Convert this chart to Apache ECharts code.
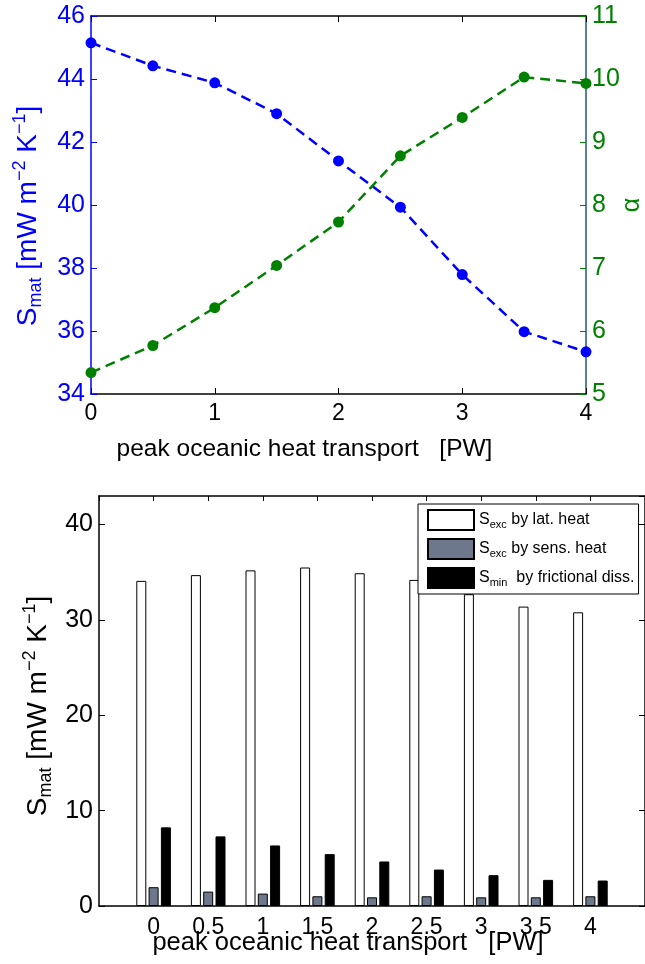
<!DOCTYPE html>
<html>
<head>
<meta charset="utf-8">
<script src="https://cdn.jsdelivr.net/npm/echarts@6/dist/echarts.min.js"></script>
<style>
  html, body { margin: 0; padding: 0; background: #fff; }
  #chart { width: 645px; height: 964px; }
</style>
</head>
<body>
<div id="chart"></div>
<script>
// peak oceanic heat transport [PW]
const transport = [0, 0.5, 1, 1.5, 2, 2.5, 3, 3.5, 4]
// top panel: material entropy production (left axis) and alpha (right axis)
const sMat = [45.15, 44.42, 43.88, 42.9, 41.4, 39.93, 37.79, 35.98, 35.34]
const alpha = [5.34, 5.77, 6.37, 7.04, 7.73, 8.78, 9.39, 10.03, 9.93]
// bottom panel: contributions
const latHeat = [34.1, 34.7, 35.2, 35.5, 34.9, 34.2, 32.7, 31.4, 30.8]
const sensHeat = [1.97, 1.51, 1.3, 1.02, 0.91, 1.02, 0.91, 0.91, 1.02]
const fricDiss = [8.25, 7.3, 6.35, 5.44, 4.67, 3.82, 3.23, 2.74, 2.67]

const legendNames = ['S_exc by lat. heat', 'S_exc by sens. heat', 'S_min by frictional diss.']
const legendRich = {
  'S_exc by lat. heat': '{m|S}{sub|exc}{m| by lat. heat}',
  'S_exc by sens. heat': '{m|S}{sub|exc}{m| by sens. heat}',
  'S_min by frictional diss.': '{m|S}{sub|min}{m|  by frictional diss.}'
}

const pairs = (ys) => transport.map((x, i) => [x, ys[i]])

const font = 'Liberation Sans, Arial, sans-serif'
const nameRich = (color) => ({
  m: { fontSize: 28, color: color, lineHeight: 34, fontFamily: font },
  sub: { fontSize: 18, color: color, lineHeight: 12, verticalAlign: 'bottom', fontFamily: font },
  sup: { fontSize: 18, color: color, lineHeight: 14, verticalAlign: 'top', fontFamily: font }
})
const smatName = '{m|S}{sub|mat}{m| [mW m}{sup|−2}{m| K}{sup|−1}{m|]}'

const chart = echarts.init(document.getElementById('chart'))
const option = {
  animation: false,
  backgroundColor: '#fff',
  textStyle: { fontFamily: font },
  grid: [
    { left: 91, top: 16, right: 59, height: 378, outerBoundsMode: 'none' },
    { left: 99, top: 496, right: 0, height: 410, outerBoundsMode: 'none' }
  ],
  legend: {
    data: legendNames,
    orient: 'vertical',
    left: 418,
    top: 504,
    padding: [5, 4, 5, 9],
    itemWidth: 46,
    itemHeight: 20,
    itemGap: 7,
    borderColor: '#000',
    borderWidth: 1,
    backgroundColor: '#fff',
    icon: 'rect',
    formatter: (n) => legendRich[n],
    textStyle: {
      rich: {
        m: { fontSize: 16, color: '#000', lineHeight: 20, fontFamily: font },
        sub: { fontSize: 11, color: '#000', lineHeight: 8, verticalAlign: 'bottom', fontFamily: font }
      }
    }
  },
  xAxis: [
    {
      gridIndex: 0, type: 'value', min: 0, max: 4, interval: 1, position: 'bottom',
      axisLine: { onZero: false, lineStyle: { color: '#000', width: 1.5 } },
      axisTick: { inside: true, length: 6, lineStyle: { color: '#000' } },
      axisLabel: { fontSize: 23, color: '#000', margin: 8 },
      splitLine: { show: false },
      name: 'peak oceanic heat transport   [PW]',
      nameLocation: 'middle', nameGap: 43, nameMoveOverlap: false,
      nameTextStyle: { fontSize: 24.5, color: '#000', padding: [0, 68, 0, 0] }
    },
    {
      gridIndex: 0, type: 'value', min: 0, max: 4, interval: 1, position: 'top',
      axisLine: { onZero: false, lineStyle: { color: '#000', width: 1.5 } },
      axisTick: { inside: true, length: 6, lineStyle: { color: '#000' } },
      axisLabel: { show: false },
      splitLine: { show: false }
    },
    {
      gridIndex: 1, type: 'value', min: -0.5, max: 4.5, interval: 0.5, position: 'bottom',
      axisLine: { onZero: false, lineStyle: { color: '#000', width: 1.5 } },
      axisTick: { show: false },
      axisLabel: {
        fontSize: 23, color: '#000', margin: 10,
        formatter: (v) => (transport.indexOf(v) >= 0 ? String(v) : '')
      },
      splitLine: { show: false },
      name: 'peak oceanic heat transport   [PW]',
      nameLocation: 'middle', nameGap: 24, nameMoveOverlap: false,
      nameTextStyle: { fontSize: 25.5, color: '#000', padding: [0, 48, 0, 0] }
    },
    {
      gridIndex: 1, type: 'value', min: -0.5, max: 4.5, interval: 0.5, position: 'top',
      axisLine: { onZero: false, lineStyle: { color: '#000', width: 1.5 } },
      axisTick: { inside: true, length: 5, lineStyle: { color: '#000' } },
      axisLabel: { show: false },
      splitLine: { show: false }
    }
  ],
  yAxis: [
    {
      gridIndex: 0, type: 'value', min: 34, max: 46, interval: 2, position: 'left',
      axisLine: { show: true, onZero: false, lineStyle: { color: '#0000ff', width: 1.5 } },
      axisTick: { show: true, inside: true, length: 6, lineStyle: { color: '#0000ff' } },
      axisLabel: { fontSize: 25, color: '#0000ff', margin: 6 },
      splitLine: { show: false },
      name: smatName, nameLocation: 'middle', nameRotate: 90, nameGap: 46, nameMoveOverlap: false,
      nameTextStyle: { rich: nameRich('#0000ff'), padding: [0, 22, 0, 0] }
    },
    {
      gridIndex: 0, type: 'value', min: 5, max: 11, interval: 1, position: 'right',
      axisLine: { show: true, onZero: false, lineStyle: { color: '#1f5a73', width: 1.5 } },
      axisTick: { show: true, inside: true, length: 6, lineStyle: { color: '#008000' } },
      axisLabel: { fontSize: 25, color: '#008000', margin: 6 },
      splitLine: { show: false },
      name: 'α', nameLocation: 'middle', nameRotate: 90, nameGap: 34, nameMoveOverlap: false,
      nameTextStyle: { fontSize: 25, color: '#008000' }
    },
    {
      gridIndex: 1, type: 'value', min: 0, max: 43, interval: 10, position: 'left',
      axisLine: { show: true, onZero: false, lineStyle: { color: '#000', width: 1.5 } },
      axisTick: { show: true, inside: true, length: 6, lineStyle: { color: '#000' } },
      axisLabel: { fontSize: 25, color: '#000', margin: 6, showMaxLabel: false },
      splitLine: { show: false },
      name: smatName, nameLocation: 'middle', nameRotate: 90, nameGap: 44, nameMoveOverlap: false,
      nameTextStyle: { rich: nameRich('#000'), padding: [0, 10, 0, 0] }
    },
    {
      gridIndex: 1, type: 'value', min: 0, max: 43, interval: 10, position: 'right',
      axisLine: { show: true, onZero: false, lineStyle: { color: '#000', width: 1.5 } },
      axisTick: { show: true, inside: true, length: 6, lineStyle: { color: '#000' } },
      axisLabel: { show: false },
      splitLine: { show: false }
    }
  ],
  series: [
    {
      name: 'S_mat', type: 'line', xAxisIndex: 0, yAxisIndex: 0,
      data: pairs(sMat),
      symbol: 'circle', symbolSize: 11,
      itemStyle: { color: '#0000ff' },
      lineStyle: { color: '#0000ff', width: 2.5, type: [10, 6] }
    },
    {
      name: 'alpha', type: 'line', xAxisIndex: 0, yAxisIndex: 1,
      data: pairs(alpha),
      symbol: 'circle', symbolSize: 11,
      itemStyle: { color: '#008000' },
      lineStyle: { color: '#008000', width: 2.5, type: [10, 6] }
    },
    {
      name: legendNames[0], type: 'bar', xAxisIndex: 2, yAxisIndex: 2,
      data: pairs(latHeat), barWidth: 10, barGap: '23%',
      itemStyle: { color: '#ffffff', borderColor: '#000', borderWidth: 1 }
    },
    {
      name: legendNames[1], type: 'bar', xAxisIndex: 2, yAxisIndex: 2,
      data: pairs(sensHeat), barWidth: 10, barGap: '23%',
      itemStyle: { color: '#6d788c', borderColor: '#000', borderWidth: 1 }
    },
    {
      name: legendNames[2], type: 'bar', xAxisIndex: 2, yAxisIndex: 2,
      data: pairs(fricDiss), barWidth: 10, barGap: '23%',
      itemStyle: { color: '#000000', borderColor: '#000', borderWidth: 1 }
    }
  ]
}
chart.setOption(option)
</script>
</body>
</html>
